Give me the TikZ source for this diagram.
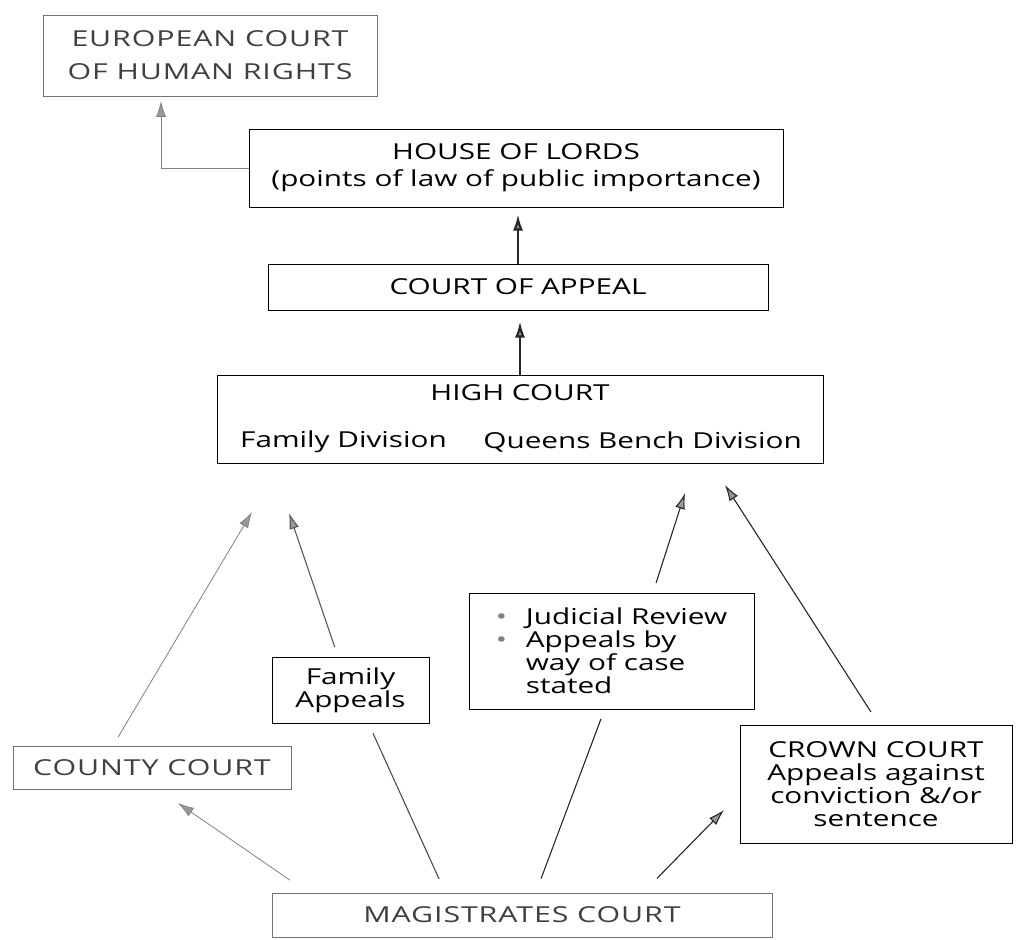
\documentclass[tikz,border=0pt]{standalone}
\usepackage{fontspec}
\setmainfont{Open Sans}[FakeStretch=1.35]
\newfontfamily\capsfont{Open Sans}[FakeStretch=1.38, LetterSpace=4]
\usetikzlibrary{arrows.meta}
\usetikzlibrary{positioning}
\tikzset{>=latex}
\tikzset{
    court/.style={draw, line width=1pt, inner sep=0pt, align=center},
    faint/.style={draw=black!55, line width=0.7pt, inner sep=0pt, align=center, text=black!75, font=\fontsize{22}{28}\selectfont\capsfont},
    link/.style={line width=1.1pt, draw=black!85},
    pale/.style={line width=0.8pt, draw=black!50},
    tip/.style={-{Latex[length=16pt, width=10pt, fill=black!40]}},
}
\begin{document}
\begin{tikzpicture}[x=1pt, y=-1pt, every node/.style={font=\fontsize{22}{23}\selectfont}]
    \useasboundingbox (0,0) rectangle (1019,939);

    % upper courts
    \node[faint, minimum width=334pt, minimum height=81pt] (euro) at (210,55.5)
        {EUROPEAN COURT\\[5pt]OF HUMAN RIGHTS};
    \node[court, minimum width=534pt, minimum height=78pt] (lords) at (516,168)
        {HOUSE OF LORDS\\[4pt](points of law of public importance)};
    \node[court, minimum width=500pt, minimum height=46pt] (appeal) at (518,287)
        {COURT OF APPEAL};

    % high court
    \node[court, minimum width=606pt, minimum height=88pt] (high) at (520,419) {};
    \node (hightitle) at (520,393) {HIGH COURT};
    \node[anchor=west, inner sep=0pt] (famdiv) at (240,442) {Family Division};
    \node[anchor=east, inner sep=0pt] (qbdiv) at (802,442) {Queens Bench Division};

    % routes up
    \node[court, line width=0.8pt, minimum width=157pt, minimum height=66pt] (famapp) at (350.5,690)
        {Family\\Appeals};
    \node[court, minimum width=285pt, minimum height=116pt, align=left] (review) at (611.5,651)
        {\makebox[30pt][l]{\color{black!50}•}Judicial Review\\
         \makebox[30pt][l]{\color{black!50}•}Appeals by\\
         \hspace*{30pt}way of case\\
         \hspace*{30pt}stated};
    \node[court, minimum width=272pt, minimum height=118pt] (crown) at (876,784)
        {CROWN COURT\\Appeals against\\conviction \&/or\\sentence};
    \node[faint, minimum width=278pt, minimum height=43pt] (county) at (152,767.5) {COUNTY COURT};
    \node[faint, minimum width=500pt, minimum height=44pt] (mags) at (522,915) {MAGISTRATES COURT};

    % arrow tips
    \coordinate (tipeuro) at (161,101);
    \coordinate (tipcc) at (252,512);
    \coordinate (tipfa) at (289,513);
    \coordinate (tipjr) at (685,493);
    \coordinate (tipcr) at (725,485);
    \coordinate (tipcounty) at (178,803);
    \coordinate (tipcrown) at (724,810);

    \draw[pale, tip] (lords.west) -| (tipeuro);
    \draw[link, line width=2.2pt, tip, shorten >=7pt] (appeal.north) -- (appeal.north |- lords.south);
    \draw[link, line width=2.2pt, tip, shorten >=11pt] (high.north) -- (high.north |- appeal.south);

    \draw[pale, tip, shorten <=10pt] ([xshift=-39pt]county.north) -- (tipcc);
    \draw[link, draw=black!65, tip, shorten <=10pt] ([xshift=-12.5pt]famapp.north) -- (tipfa);
    \draw[link, tip, shorten <=10pt] ([xshift=41.5pt]review.north) -- (tipjr);
    \draw[link, tip, shorten <=15pt] ([xshift=3pt]crown.north) -- (tipcr);

    % from magistrates
    \draw[pale, tip, shorten <=22pt] ([xshift=-214pt]mags.north) -- (tipcounty);
    \draw[link, draw=black!70, shorten <=15pt, shorten >=11pt] ([xshift=-76.7pt]mags.north) -- ([xshift=18pt]famapp.south);
    \draw[link, shorten <=15pt, shorten >=10pt] ([xshift=13.8pt]mags.north) -- ([xshift=-7pt]review.south);
    \draw[link, tip, shorten <=20pt] ([xshift=121pt]mags.north) -- (tipcrown);
\end{tikzpicture}
\end{document}
